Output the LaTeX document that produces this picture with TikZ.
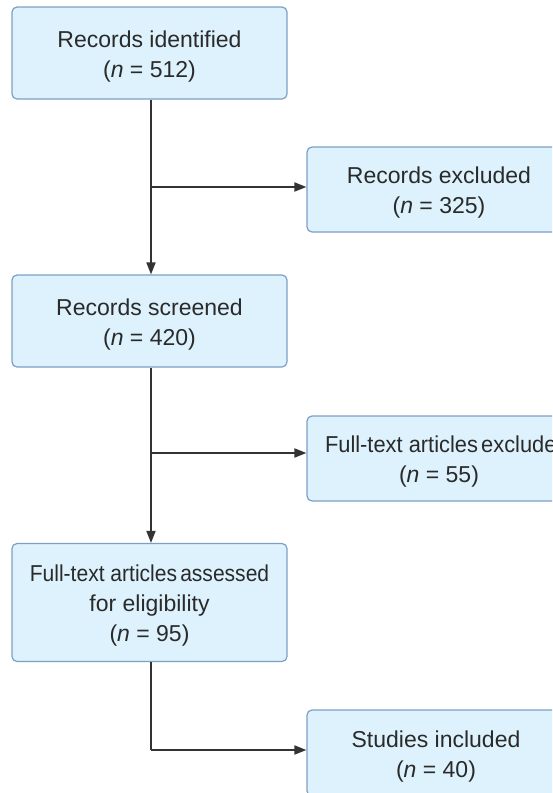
\documentclass[tikz,border=0pt]{standalone}
\usepackage{fontspec}
\usepackage{graphicx}
\setmainfont{Liberation Sans}
\usetikzlibrary{arrows.meta}
\definecolor{boxfill}{HTML}{DDF2FC}
\definecolor{boxedge}{HTML}{7D9FC6}
\definecolor{linecol}{HTML}{333333}
\definecolor{textcol}{HTML}{2A2A2A}
% a taller first line pushes the text block slightly downwards
\newcommand\firstline{\rule{0pt}{23pt}}
% horizontally condensed line
\newcommand\narrowline[2][0.915]{\scalebox{#1}[1]{#2}}
\begin{document}
\begin{tikzpicture}[x=1pt,y=-1pt,
  box/.style={draw=boxedge, fill=boxfill, rounded corners=5pt, line width=1.2pt,
    align=center, text=textcol, inner sep=0pt,
    font=\fontsize{23}{30}\selectfont},
  link/.style={draw=linecol, line width=1.8pt,
    -{Triangle[length=12pt,width=9pt]}},
  plain/.style={draw=linecol, line width=1.8pt}]
\useasboundingbox (0,0) rectangle (552,793);
\clip (0,0) rectangle (552,793);

% main column
\node[box, minimum width=275pt, minimum height=92pt] (ident) at (149.5,53)
  {\firstline Records identified\\(\textit{n} = 512)};
\node[box, minimum width=275pt, minimum height=92pt] (screen) at (149.5,321)
  {\firstline Records screened\\(\textit{n} = 420)};
\node[box, minimum width=275pt, minimum height=118pt] (assess) at (149.5,602.5)
  {\firstline\narrowline{Full-text articles\hspace{0.15em}assessed}\\for eligibility\\(\textit{n} = 95)};

% side column (boxes run past the right edge)
\node[box, minimum width=264pt, minimum height=85pt] (excl) at (439,189.5)
  {\firstline Records excluded\\(\textit{n} = 325)};
\node[box, minimum width=264pt, minimum height=85pt] (ftexcl) at (439,458.5)
  {\firstline\makebox[240pt][l]{\hspace*{6pt}\narrowline[0.95]{Full-text articles\hspace{0.15em}excluded}}\\(\textit{n} = 55)};
\node[box, minimum width=258pt, minimum height=86pt] (incl) at (436,753)
  {\firstline Studies included\\(\textit{n} = 40)};

% junction points on the main line
\coordinate (j1) at (151,187);
\coordinate (j2) at (151,453);
\coordinate (j3) at (151,750);

% connectors
\draw[link] (ident.south -| j1) -- (screen.north -| j1);
\draw[link] (screen.south -| j2) -- (assess.north -| j2);
\draw[link] (j1) -- (j1 -| excl.west);
\draw[link] (j2) -- (j2 -| ftexcl.west);
\draw[plain] (assess.south -| j3) -- (j3);
\draw[link] (j3) -- (j3 -| incl.west);
\end{tikzpicture}
\end{document}
